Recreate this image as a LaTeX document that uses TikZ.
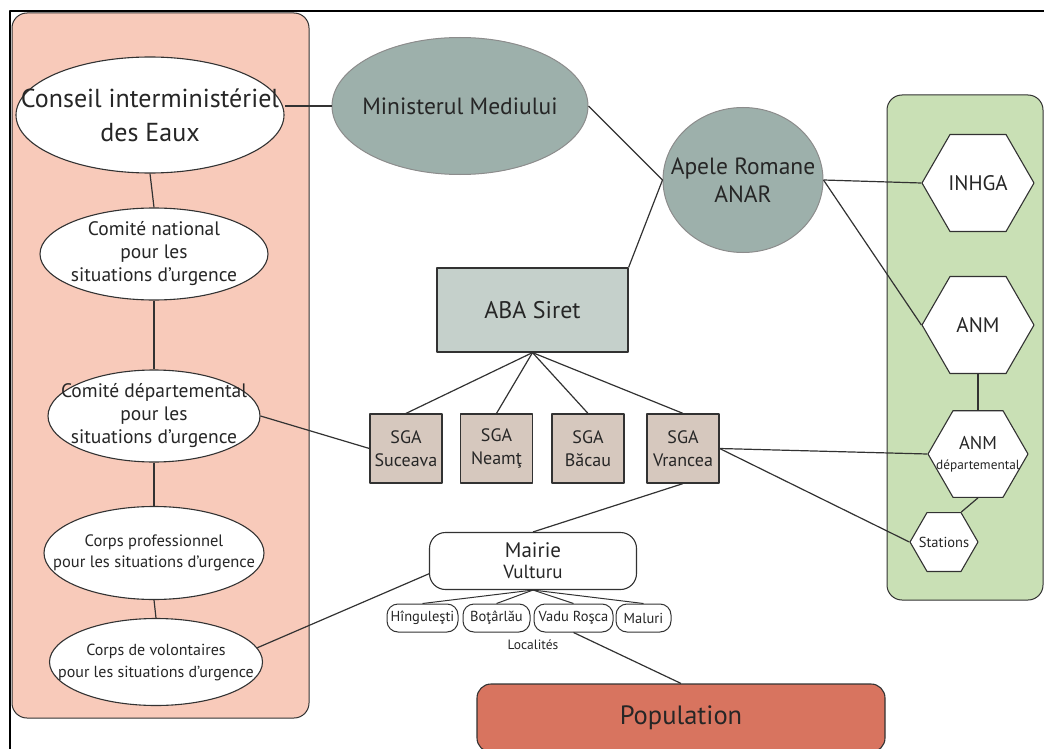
\documentclass[tikz,border=0pt]{standalone}
\usepackage{fontspec}
\setmainfont{PT Sans}
\usetikzlibrary{shapes.geometric,positioning}
\definecolor{pinkbg}{RGB}{248,202,186}
\definecolor{greenbg}{RGB}{201,224,181}
\definecolor{tealc}{RGB}{157,176,171}
\definecolor{abac}{RGB}{197,208,203}
\definecolor{sgac}{RGB}{214,200,190}
\definecolor{popc}{RGB}{216,116,95}
\definecolor{linec}{RGB}{50,50,50}

\begin{document}
\begin{tikzpicture}[x=1pt,y=-1pt,line join=round,text=black!85,
    panel/.style={draw=linec,line width=1pt,rounded corners=15},
    ell/.style={ellipse,draw=linec,line width=1.1pt,fill=white,inner sep=0pt},
    teal/.style={ellipse,draw=black!45,line width=1pt,fill=tealc,inner sep=0pt},
    hexa/.style={regular polygon,regular polygon sides=6,draw=linec,line width=1.1pt,fill=white,inner sep=0pt},
    sga/.style={draw=linec,line width=1.2pt,fill=sgac,minimum width=72,minimum height=69,inner sep=0pt,align=center,font=\fontsize{18}{23}\selectfont},
    loc/.style={draw=linec,line width=1pt,rounded corners=11,minimum height=28,inner xsep=1pt,font=\fontsize{14.5}{16}\selectfont},
    big/.style={align=center,font=\fontsize{26}{34}\selectfont},
    mid/.style={align=center,font=\fontsize{19.5}{23}\selectfont},
    sml/.style={align=center,font=\fontsize{16.5}{21}\selectfont},
    link/.style={draw=linec,line width=1.2pt}]
  \useasboundingbox (0,0) rectangle (1044,749);
  \clip (0,0) rectangle (1044,749);
  \draw[line width=2pt] (10,749) -- (10,11) -- (1044,11);

  % panels
  \draw[panel,fill=pinkbg] (12,13) rectangle (309,718);
  \draw[panel,fill=greenbg] (887,95) rectangle (1043,600);

  % left column
  \node[ell,minimum width=268,minimum height=116,label={[big]center:Conseil interministériel\\des Eaux}] (conseil) at (150,115) {};
  \node[ell,minimum width=228,minimum height=92,label={[mid]center:Comité national\\pour les\\situations d’urgence}] (national) at (154,254) {};
  \node[ell,minimum width=212,minimum height=92,label={[mid]center:Comité départemental\\pour les\\situations d’urgence}] (depart) at (154,416) {};
  \node[ell,minimum width=220,minimum height=93,label={[sml]center:Corps professionnel\\pour les situations d’urgence}] (prof) at (154,553) {};
  \node[ell,minimum width=213,minimum height=87,label={[sml,font=\fontsize{16}{22}\selectfont]center:Corps de volontaires\\pour les situations d’urgence}] (volont) at (156,662) {};

  % water administration
  \node[teal,minimum width=256,minimum height=137,label={[font=\fontsize{23.5}{28}\selectfont]center:Ministerul Mediului}] (minist) at (460,106) {};
  \node[teal,minimum width=160,minimum height=145,label={[align=center,font=\fontsize{23.5}{28}\selectfont]center:Apele Romane\\ANAR}] (anar) at (743,180) {};
  \node[draw=linec,line width=1.2pt,fill=abac,minimum width=191,minimum height=84,font=\fontsize{24}{28}\selectfont] (aba) at (532.5,310) {ABA Siret};

  \node[sga] (suceava) at (406,448.5) {SGA\\Suceava};
  \node[sga] (neamt) at (496.5,448.5) {SGA\\Neamţ};
  \node[sga] (bacau) at (588,448.5) {SGA\\Băcau};
  \node[sga] (vrancea) at (683,448.5) {SGA\\Vrancea};

  % commune
  \node[draw=linec,line width=1.1pt,fill=white,rounded corners=16,minimum width=207,minimum height=57,inner sep=0pt,align=center,font=\fontsize{21}{21}\selectfont] (mairie) at (533,561) {Mairie\\{\fontsize{19}{19}\selectfont Vulturu}};
  \node[loc,minimum width=71] (hing) at (422.5,618) {Hînguleşti};
  \node[loc,minimum width=67] (botar) at (496.5,618) {Boţârlău};
  \node[loc,minimum width=79] (vadu) at (573.5,618) {Vadu Roşca};
  \node[loc,minimum width=55] (maluri) at (643.5,618) {Maluri};
  \node[font=\fontsize{13.5}{15}\selectfont] (localites) at (533,645) {Localités};
  \node[draw=linec,line width=1.1pt,fill=popc,rounded corners=14,minimum width=408,minimum height=68,font=\fontsize{26.5}{30}\selectfont] (popul) at (681,718) {Population};

  % meteo / hydro
  \node[hexa,minimum size=112,label={[font=\fontsize{21}{24}\selectfont]center:INHGA}] (inhga) at (978,183) {};
  \node[hexa,minimum size=112,label={[font=\fontsize{21}{24}\selectfont]center:ANM}] (anm) at (978,325) {};
  \node[hexa,minimum size=100,label={[align=center,font=\fontsize{18.5}{20}\selectfont]center:ANM\\{\fontsize{13.3}{14}\selectfont départemental}}] (anmdep) at (978,454) {};
  \node[hexa,minimum size=68,label={[font=\fontsize{14.5}{16}\selectfont]center:Stations}] (stations) at (944,542) {};

  % links
  \draw[link] (conseil.south) -- (national.north);
  \draw[link] (national.south) -- (depart.north);
  \draw[link] (depart.south) -- (prof.north);
  \draw[link] (prof.south) -- (volont.north);
  \draw[link] (minist.west) -- (minist.west -| conseil.east);
  \draw[link] (minist.east) -- (anar.west);
  \draw[link] (anar.west) -- (aba.north east);
  \draw[link] (anar.east) -- (inhga.west);
  \draw[link] (anar.east) -- (anm.west);
  \draw[link] (anm.south) -- (anmdep.north);
  \draw[link] (anmdep.south) -- (stations.corner 1);
  \foreach \s in {suceava,neamt,bacau,vrancea}
    \draw[link] (aba.south) -- (\s.north);
  \draw[link] (depart.east) -- (suceava.west);
  \draw[link] (vrancea.east) -- (anmdep.west);
  \draw[link] (vrancea.east) -- (stations.west);
  \draw[link] (vrancea.south) -- (mairie.north);
  \draw[link] (volont.8) -- (mairie.187);
  \foreach \l in {hing,botar,vadu,maluri}
    \draw[link,line width=1pt] (mairie.south) -- (\l.north);
  \draw[link] (vadu.south) -- (popul.north);
\end{tikzpicture}
\end{document}
